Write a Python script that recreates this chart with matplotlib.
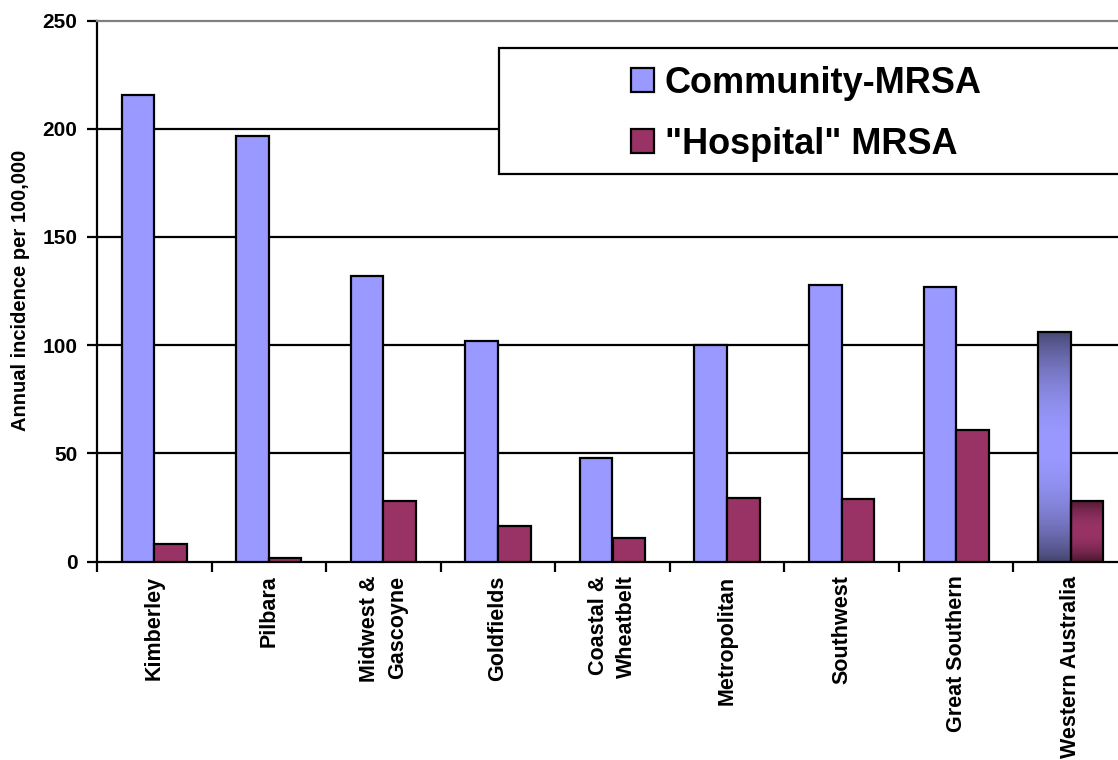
import numpy as np
import matplotlib
matplotlib.use("Agg")
import matplotlib.pyplot as plt
from matplotlib.patches import Rectangle

plt.rcParams['font.family'] = ['Liberation Sans', 'DejaVu Sans']
plt.rcParams['font.weight'] = 'bold'

# data
regions = ['Kimberley', 'Pilbara', 'Midwest &\nGascoyne', 'Goldfields',
           'Coastal &\nWheatbelt', 'Metropolitan', 'Southwest',
           'Great Southern', 'Western Australia']
community = [215.6, 196.4, 131.8, 101.8, 47.8, 100.2, 127.9, 126.9, 106.1]
hospital = [8.1, 1.8, 27.9, 16.4, 10.7, 29.5, 29.1, 60.9, 28.0]
series_names = ['Community-MRSA', '"Hospital" MRSA']
yticks = [0, 50, 100, 150, 200, 250]

ca_col = '#9999ff'
ha_col = '#993366'
W, H = 1118, 760

fig = plt.figure(figsize=(W / 100, H / 100), dpi=100)
# axes runs a little past the right edge of the picture, as in the original
ax = fig.add_axes([97 / W, (H - 561.5) / H, 1031 / W, 541 / H])

x = np.arange(len(regions))
bw = 0.285
b1 = ax.bar(x - bw / 2, community, bw, color=ca_col, edgecolor='black',
            linewidth=1.6, zorder=3, label=series_names[0])
b2 = ax.bar(x + bw / 2, hospital, bw, color=ha_col, edgecolor='black',
            linewidth=1.6, zorder=3, label=series_names[1])


# gradient fill on the last (whole state) pair of bars
def shade(bar, light, dark):
    bar.set_facecolor('none')
    t = np.linspace(0, 1, 200)
    f = np.sin(np.pi * t) ** 0.8
    light = np.array(matplotlib.colors.to_rgb(light))
    dark = np.array(matplotlib.colors.to_rgb(dark))
    img = dark[None, :] + (light - dark)[None, :] * f[:, None]
    img = img[:, None, :]
    bx, by = bar.get_x(), bar.get_y()
    im = ax.imshow(img, extent=[bx, bx + bar.get_width(), by, by + bar.get_height()],
                   aspect='auto', origin='lower', zorder=2.9, interpolation='bilinear')
    im.set_clip_path(bar)


shade(b1[-1], ca_col, '#45456f')
shade(b2[-1], ha_col, '#4a1830')

ax.set_xlim(-0.5, len(regions) - 0.5)
ax.set_ylim(0, 250)

ax.set_yticks(yticks)
ax.set_yticklabels([str(v) for v in yticks], fontsize=15, fontweight='bold')
ax.tick_params(axis='y', direction='out', length=7, width=1.6, pad=7)

ax.set_xticks(np.arange(len(regions) + 1) - 0.5)
ax.set_xticklabels([])
ax.tick_params(axis='x', which='major', direction='out', length=7, width=1.6)
ax.set_xticks(x, minor=True)
ax.set_xticklabels(regions, minor=True, rotation=90, fontsize=15.5,
                   fontweight='bold', va='top', ha='center', multialignment='right',
                   linespacing=1.45)
ax.tick_params(axis='x', which='minor', length=0, pad=10)

for v in yticks[1:-1]:
    ax.axhline(v, color='black', linewidth=1.6, zorder=1)

ax.spines['left'].set_linewidth(1.6)
ax.spines['bottom'].set_linewidth(1.6)
ax.spines['top'].set_color('#808080')
ax.spines['top'].set_linewidth(1.6)
ax.spines['right'].set_visible(False)

fig.text(21 / W, (H - 290) / H, 'Annual incidence per 100,000', rotation=90,
         ha='center', va='center', fontsize=14.5, fontweight='bold')

# legend box (runs off the right edge)
box = Rectangle((499 / W, (H - 174) / H), 700 / W, 126 / H, transform=fig.transFigure,
                facecolor='white', edgecolor='black', linewidth=1.6, zorder=4)
fig.add_artist(box)
leg = fig.legend(handles=[b1, b2], labels=series_names, loc='upper left',
                 bbox_to_anchor=(631 / W, (H - 66) / H), frameon=False,
                 prop={'size': 26, 'weight': 'bold'}, borderpad=0, borderaxespad=0,
                 handlelength=0.65, handleheight=0.65, handletextpad=0.28,
                 labelspacing=0.72)
leg.set_zorder(6)

plt.savefig('out.png', dpi=100)
